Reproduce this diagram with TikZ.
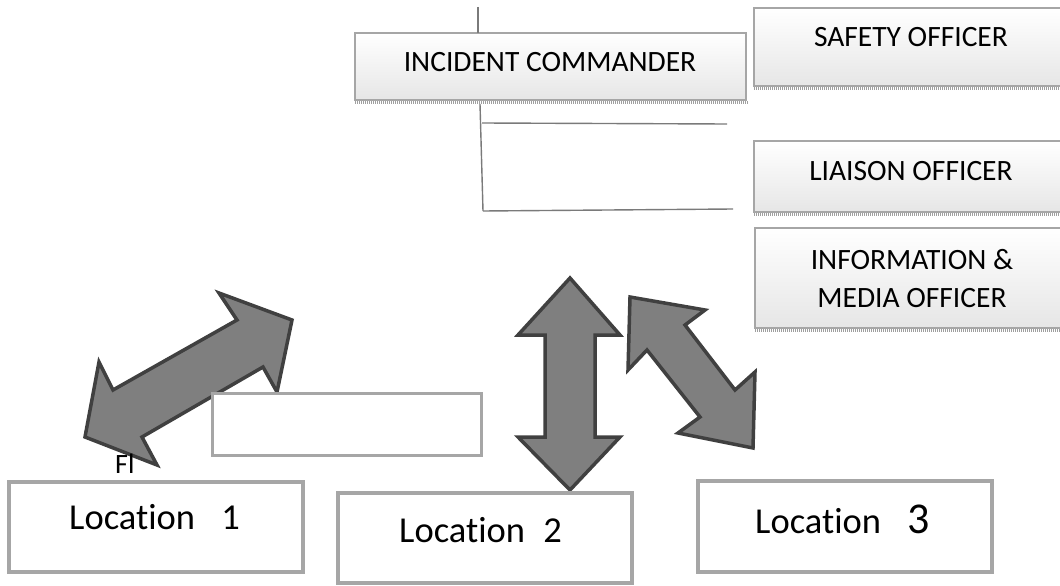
\documentclass[tikz,border=0pt]{standalone}
\usepackage{fontspec}
\setmainfont{Carlito}[Ligatures={NoCommon}]
\definecolor{boxline}{HTML}{A6A6A6}
\definecolor{boxfill}{HTML}{E6E6E6}
\definecolor{linkline}{HTML}{7A7A7A}
\definecolor{arrowfill}{HTML}{7F7F7F}
\definecolor{arrowline}{HTML}{404040}
\begin{document}
\begin{tikzpicture}[x=1pt,y=-1pt,
  orgbox/.style={draw=boxline, line width=1.5pt, top color=white, bottom color=boxfill,
    inner sep=0pt, outer sep=0pt, anchor=north west},
  locbox/.style={draw=boxline, line width=4pt, fill=white, inner sep=0pt, outer sep=0pt,
    anchor=north west, minimum width=294pt},
  blankbox/.style={draw=boxline, line width=3pt, fill=white},
  shadowstrip/.style={draw=gray!75, line width=3pt, dash pattern=on 1pt off 1pt},
  link/.style={draw=linkline, line width=1.4pt},
  blockarrow/.style={fill=arrowfill, draw=arrowline, line width=3.5pt, line join=miter},
  orgtext/.style={font=\fontsize{29.5}{38}\selectfont, anchor=base, align=center, inner sep=0pt},
  loctext/.style={font=\fontsize{36.5}{40}\selectfont, anchor=base west, inner sep=0pt}]
\useasboundingbox (0,0) rectangle (1060,586);

% command staff boxes
\node[orgbox, minimum width=391pt, minimum height=67pt] (ic) at (355,33) {};
\node[orgbox, minimum width=320pt, minimum height=78pt] (safety) at (754,8) {};
\node[orgbox, minimum width=320pt, minimum height=71pt] (liaison) at (754,141) {};
\node[orgbox, minimum width=320pt, minimum height=100pt] (info) at (755,228) {};
\foreach \b in {ic,safety,liaison,info}
  \draw[shadowstrip] ([yshift=-2.5pt]\b.south west) -- ([yshift=-2.5pt,xshift=2pt]\b.south east);

\node[orgtext] (ictext) at (550,72) {INCIDENT COMMANDER};
\node[orgtext] (safetytext) at (911,47) {SAFETY OFFICER};
\node[orgtext] (liaisontext) at (911,180) {LIAISON OFFICER};
\node[orgtext] (infotext) at (912,307) {INFORMATION \&\\MEDIA OFFICER};

% reporting lines
\coordinate (topend) at (478,7);
\coordinate (trunktop) at (480,104);
\coordinate (trunkbot) at (483,211);
\coordinate (branchA) at (482,123);
\coordinate (branchAend) at (727,124);
\coordinate (branchBend) at (733,209);
\draw[link] (topend) -- (ic.north -| topend);
\draw[link] (trunktop) -- (trunkbot);
\draw[link] (branchA) -- (branchAend);
\draw[link] (trunkbot) -- (branchBend);

% two-way block arrows
\draw[blockarrow] (292,320) -- (219,293) -- (237,320) -- (113,390) -- (99,362)
  -- (85,437) -- (157,465) -- (142,437) -- (263,367) -- (277,392) -- cycle;
\draw[blockarrow] (570,278) -- (620,335) -- (595,335) -- (595,437) -- (620,437)
  -- (570,490) -- (518,437) -- (545,437) -- (545,335) -- (518,335) -- cycle;
\draw[blockarrow] (630,297) -- (705,310) -- (685,325) -- (735,390) -- (755,372)
  -- (753,448) -- (678,433) -- (700,417) -- (647,350) -- (628,370) -- cycle;

% empty text frame
\node[blankbox, minimum width=269pt, minimum height=62pt, anchor=north west,
  inner sep=0pt, outer sep=0pt] (blank) at (212,393) {};

\node[font=\fontsize{28}{30}\selectfont, anchor=base west, inner sep=0pt] (fl) at (115,473) {Fl};

% locations
\node[locbox, minimum height=90pt] (loc1) at (9,482) {};
\node[locbox, minimum height=90pt] (loc2) at (338,493) {};
\node[locbox, minimum height=91pt] (loc3) at (698,481) {};
\node[loctext] (loc1text) at (69,529) {Location\hspace{0.72em}1};
\node[loctext] (loc2text) at (399,542) {Location\hspace{0.5em}2};
\node[loctext] (loc3text) at (755,533) {Location\hspace{0.72em}{\fontsize{44}{46}\selectfont 3}};
\end{tikzpicture}
\end{document}
